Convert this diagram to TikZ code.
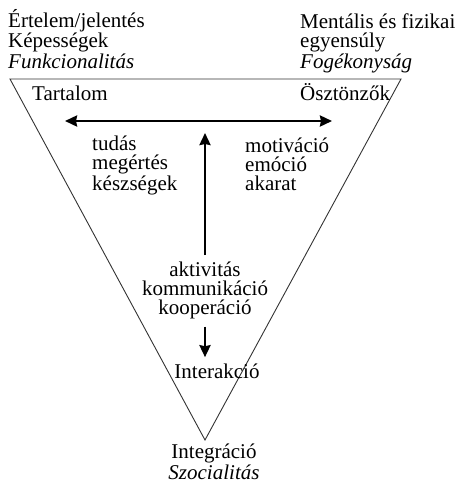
\documentclass[tikz,border=0pt]{standalone}
\usepackage{fontspec}
\setmainfont{Liberation Serif}
\usetikzlibrary{arrows.meta}
\tikzset{label text/.style={inner sep=0, align=left, anchor=base west,
    font=\fontsize{21}{19}\selectfont}}
\tikzset{mid text/.style={label text, align=center, anchor=base}}
\tikzset{flow/.style={line width=2.5pt, -{Stealth[length=12pt, width=11pt, inset=1pt]}}}
\tikzset{both flow/.style={line width=2.5pt,
    {Stealth[length=12pt, width=11pt, inset=1pt]}-{Stealth[length=12pt, width=11pt, inset=1pt]}}}

\begin{document}
\begin{tikzpicture}[x=1pt, y=-1pt]
    \useasboundingbox (0, 0) rectangle (458, 483);
    \draw[line width=0.9pt, black!80] (10, 79) -- (401, 79) -- (205, 440) -- cycle;

    % multi-line nodes sit on the baseline of their last line
    \node[label text] (meaning) at (8, 68)
        {Értelem/jelentés\\Képességek\\\textit{Funkcionalitás}};
    \node[label text] (balance) at (300, 68)
        {Mentális és fizikai\\egyensúly\\\textit{Fogékonyság}};
    \node[label text] (content) at (32, 100) {Tartalom};
    \node[label text] (drives) at (300, 100) {Ösztönzők};

    \node[label text] (knowledge) at (92, 190) {tudás\\megértés\\készségek};
    \node[label text] (motivation) at (245, 190) {motiváció\\emóció\\akarat};
    \node[mid text] (activity) at (205, 314) {aktivitás\\kommunikáció\\kooperáció};
    \node[mid text] (interaction) at (217, 378) {Interakció};
    \node[mid text] (integration) at (214, 479) {Integráció\\\textit{Szocialitás}};

    \coordinate (left end) at (65, 121);
    \coordinate (right end) at (332, 121);
    \coordinate (up end) at (205, 133);
    \draw[both flow] (left end) -- (right end);
    \draw[flow, shorten <=6pt] (activity.north) -- (up end);
    \draw[flow, shorten <=8pt, shorten >=6pt] (activity.south) -- (activity.south |- interaction.north);

    % \draw[help lines] (0,0) grid[step=20] (458,483);
\end{tikzpicture}
\end{document}
